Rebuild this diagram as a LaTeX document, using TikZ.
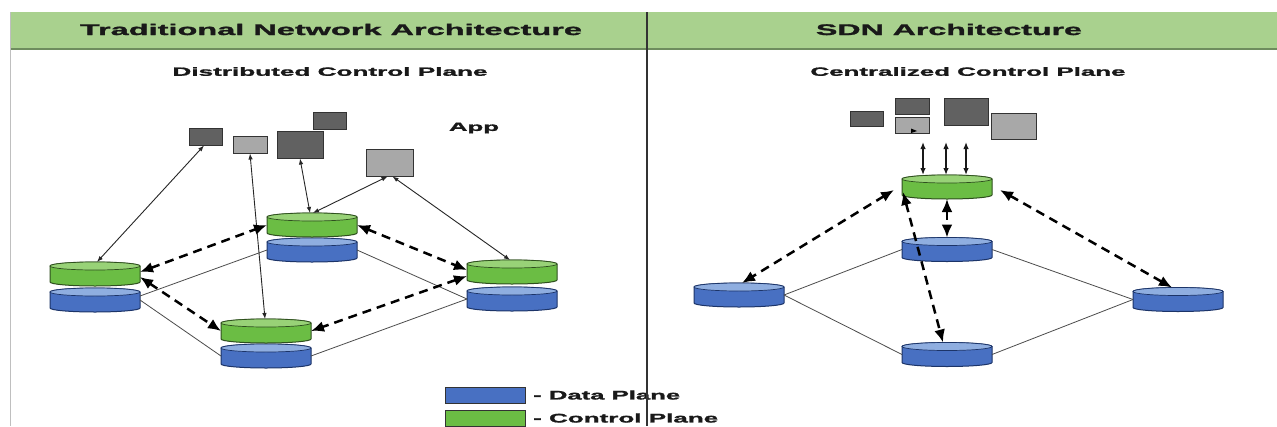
\documentclass[tikz,border=0pt]{standalone}
\usepackage{fontspec}
\setmainfont{Liberation Sans}[BoldFeatures={FakeBold=1.2}]
\usepackage{graphicx}
\usetikzlibrary{arrows.meta}
\definecolor{gbody}{HTML}{6BBD44}
\definecolor{gtop}{HTML}{98D277}
\definecolor{gline}{HTML}{2E4F1E}
\definecolor{bbody}{HTML}{4870C2}
\definecolor{btop}{HTML}{8FAEE0}
\definecolor{bline}{HTML}{1C3468}
\definecolor{band}{HTML}{A9D18E}
\definecolor{bandline}{HTML}{6E8C5E}
\definecolor{boxdark}{HTML}{616161}
\definecolor{boxlight}{HTML}{A8A8A8}
\definecolor{boxline}{HTML}{333333}
\newcommand\stx[3]{\resizebox{#1pt}{\height}{\fontsize{#2}{#2}\selectfont\bfseries #3}}
\newcommand\drawcyl[5]{%
 \node[cylnode] (#1) at #2 {};
 \filldraw[fill=#3, draw=#5, line width=1pt]
   ([yshift=-4pt]#1.north west) -- ([yshift=4pt]#1.south west)
   arc[start angle=180, end angle=360, x radius=45pt, y radius=4pt]
   -- ([yshift=-4pt]#1.north east)
   arc[start angle=0, end angle=180, x radius=45pt, y radius=4pt] -- cycle;
 \filldraw[fill=#4, draw=#5, line width=0.7pt]
   ([yshift=-4pt]#1.north) ellipse[x radius=45pt, y radius=4pt];
}
\tikzset{
 cylnode/.style={inner sep=0pt, outer sep=0pt, minimum width=90pt, minimum height=24pt},
 appdark/.style={draw=boxline, fill=boxdark, line width=1pt, inner sep=0pt},
 applight/.style={draw=boxline, fill=boxlight, line width=1pt, inner sep=0pt},
 legbox/.style={draw=black!80, line width=0.9pt, inner sep=0pt, minimum width=80pt, minimum height=16pt},
 thinarr/.style={draw=black!85, line width=0.9pt, {Latex[length=6pt,width=4.5pt]}-{Latex[length=6pt,width=4.5pt]}},
 vertarr/.style={draw=black!90, line width=1.3pt, {Latex[length=7pt,width=5.5pt]}-{Latex[length=7pt,width=5.5pt]}},
 ctrlarr/.style={draw=black, line width=2.5pt, dash pattern=on 9pt off 6pt, {Latex[length=13pt,width=11pt]}-{Latex[length=13pt,width=11pt]}},
 link/.style={draw=black!70, line width=0.8pt},
 txt/.style={inner sep=0pt, text=black!90}
}
\begin{document}
\begin{tikzpicture}[x=1pt,y=-1pt]
\useasboundingbox (0,0) rectangle (1277,426);
\fill[white] (0,0) rectangle (1277,426);
% header band
\fill[band] (10,12) rectangle (1277,49);
\draw[bandline, line width=1.5pt] (10,49) -- (1277,49);
\draw[black!25, line width=1pt] (10,12) -- (10,426);
% titles
\node[txt] (h1) at (331,29.5) {\stx{502}{15.5}{Traditional Network Architecture}};
\node[txt] (h2) at (949,29.5) {\stx{266}{15.5}{SDN Architecture}};
\node[txt] (s1) at (330,71.5) {\stx{315}{12}{Distributed Control Plane}};
\node[txt] (s2) at (968,71.5) {\stx{315}{12}{Centralized Control Plane}};
\node[txt] (app) at (474,128) {\stx{50}{12}{App}};
% left cylinders
\drawcyl{Lb}{(95,300)}{bbody}{btop}{bline}
\drawcyl{Lg}{(95,274)}{gbody}{gtop}{gline}
\drawcyl{Tb}{(312,250)}{bbody}{btop}{bline}
\drawcyl{Tg}{(312,225)}{gbody}{gtop}{gline}
\drawcyl{Rb}{(512,299)}{bbody}{btop}{bline}
\drawcyl{Rg}{(512,272)}{gbody}{gtop}{gline}
\drawcyl{Bb}{(266,356)}{bbody}{btop}{bline}
\drawcyl{Bg}{(266,331)}{gbody}{gtop}{gline}
% left apps
\node[appdark, minimum width=33pt, minimum height=17pt] (A1) at (205.5,136.5) {};
\node[applight, minimum width=34pt, minimum height=17pt] (A2) at (250,144.5) {};
\node[appdark, minimum width=46pt, minimum height=27pt] (A3) at (300,144.5) {};
\node[appdark, minimum width=33pt, minimum height=17pt] (A4) at (329.5,120.5) {};
\node[applight, minimum width=47pt, minimum height=27pt] (A5) at (389.5,162.5) {};
% left data links
\draw[link] ([yshift=4pt]Lb.east) -- (Tb.west);
\draw[link] (Lb.east) -- (Bb.west);
\draw[link] (Tb.east) -- (Rb.west);
\draw[link] (Bb.east) -- (Rb.west);
% left app arrows
\draw[thinarr] ([xshift=2pt]Lg.north) -- ([xshift=-1.5pt]A1.south);
\draw[thinarr] ([xshift=-1pt]Bg.north) -- (A2.south);
\draw[thinarr] ([xshift=-2pt]Tg.north) -- (A3.south);
\draw[thinarr] ([xshift=1pt]Tg.north) -- ([xshift=-2pt]A5.south);
\draw[thinarr] ([xshift=-2pt]Rg.north) -- ([xshift=3pt]A5.south);
% left control arrows
\draw[ctrlarr] ([yshift=2pt]Lg.east) -- (Tg.west);
\draw[ctrlarr] ([yshift=-3pt]Lg.east) -- (Bg.west);
\draw[ctrlarr] (Tg.east) -- ([yshift=2pt]Rg.west);
\draw[ctrlarr] ([yshift=-4pt]Rg.west) -- (Bg.east);
% SDN side
\drawcyl{D1}{(947,249.5)}{bbody}{btop}{bline}
\drawcyl{D2}{(739,295)}{bbody}{btop}{bline}
\drawcyl{D3}{(1178,299.5)}{bbody}{btop}{bline}
\drawcyl{D4}{(947,354.5)}{bbody}{btop}{bline}
\drawcyl{C}{(947,187)}{gbody}{gtop}{gline}
\node[appdark, minimum width=33pt, minimum height=15pt] (S1) at (866.5,118.5) {};
\node[appdark, minimum width=34pt, minimum height=16pt] (S2) at (912,106) {};
\node[applight, minimum width=34pt, minimum height=16pt] (S3) at (912,125) {};
\node[appdark, minimum width=44pt, minimum height=27pt] (S4) at (966,111.5) {};
\node[applight, minimum width=45pt, minimum height=26pt] (S5) at (1013.5,126) {};
\fill[black] ([xshift=5pt,yshift=2.5pt]S3.south) -- ([xshift=-1pt,yshift=5pt]S3.south) -- ([xshift=-1pt,yshift=0.5pt]S3.south) -- cycle;
\coordinate (u1) at (923,142);
\coordinate (u2) at (946,142);
\coordinate (u3) at (966,142);
\draw[vertarr] ([xshift=-24pt]C.north) -- (u1);
\draw[vertarr] ([xshift=-1pt]C.north) -- (u2);
\draw[vertarr] ([xshift=19pt]C.north) -- (u3);
% SDN data links
\draw[link] (D2.east) -- (D1.west);
\draw[link] (D2.east) -- (D4.west);
\draw[link] (D1.east) -- (D3.west);
\draw[link] (D4.east) -- (D3.west);
% SDN control arrows
\draw[ctrlarr] (C.south) -- (D1.north);
\draw[ctrlarr] ([xshift=-8pt,yshift=-3pt]C.west) -- ([xshift=3pt]D2.north);
\draw[ctrlarr] ([xshift=8pt,yshift=-3pt]C.east) -- ([xshift=-6pt]D3.north);
\draw[ctrlarr] ([xshift=1pt,yshift=-5pt]C.west) -- ([xshift=-4pt]D4.north);
% legend
\node[legbox, fill=bbody] (lgb) at (485,395.5) {};
\node[legbox, fill=gbody] (lgg) at (485,418) {};
\node[txt, anchor=west] (ldp) at (533,395) {\stx{147}{12.5}{- Data Plane}};
\node[txt, anchor=west] (lcp) at (533,418) {\stx{185}{12.5}{- Control Plane}};
% divider
\draw[black!80, line width=1.2pt] (647,12) -- (647,426);
\end{tikzpicture}
\end{document}
